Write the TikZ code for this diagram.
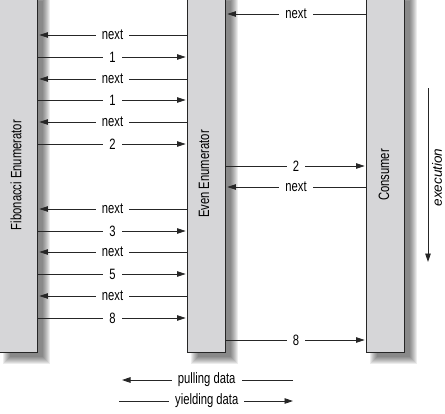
\documentclass[tikz,border=0pt]{standalone}
\usepackage{fontspec}
\setmainfont{Liberation Sans}[FakeStretch=0.75]
\newfontfamily\execfont{Liberation Sans}
\usetikzlibrary{arrows.meta,backgrounds}
\definecolor{barfill}{HTML}{D6D6D8}

\begin{document}
\begin{tikzpicture}[x=1pt, y=-1pt,
        bar/.style={draw=black!85, line width=0.8pt, fill=barfill, minimum width=38pt, minimum height=362pt, inner sep=0pt},
        barname/.style={rotate=90, inner sep=0pt, font=\fontsize{15}{18}\selectfont},
        lbl/.style={fill=white, inner xsep=6pt, inner ysep=1pt, font=\fontsize{15}{18}\selectfont},
        flow/.style={draw=black!85, line width=0.8pt, -{Triangle[length=8.5pt,width=5.5pt]}, shorten >=1.5pt}]
    \useasboundingbox (0,0) rectangle (445,413);
    \clip (0,0) rectangle (445,413);

    % the three enumerators
    \node[bar] (fib) at (18.5,171) {};
    \node[bar] (even) at (206.5,171) {};
    \node[bar] (cons) at (385.5,171) {};
    \node[barname] (fibname) at (16,175) {Fibonacci Enumerator};
    \node[barname] (evenname) at (204,174) {Even Enumerator};
    \node[barname] (consname) at (384,175) {Consumer};

    % soft shadows
    \begin{scope}[on background layer]
        \foreach \b in {fib,even,cons}
            \foreach \i in {0,...,7}
                \fill[black, opacity=0.075] ([shift={(4+\i,4+\i)}]\b.north west) rectangle ([shift={(12-\i,12-\i)}]\b.south east);
    \end{scope}

    % fibonacci <-> even
    \foreach \y in {35,79,122,209,252,296}
        \draw[flow] (even.west |- 0,\y) -- node[lbl] {next} (fib.east |- 0,\y);
    \foreach \y/\v in {57/1,100/1,144/2,231/3,274/5,318/8}
        \draw[flow] (fib.east |- 0,\y) -- node[lbl] {\v} (even.west |- 0,\y);

    % even <-> consumer
    \foreach \y in {14,187}
        \draw[flow] (cons.west |- 0,\y) -- node[lbl] {next} (even.east |- 0,\y);
    \foreach \y/\v in {166/2,340/8}
        \draw[flow] (even.east |- 0,\y) -- node[lbl] {\v} (cons.west |- 0,\y);

    % execution direction
    \coordinate (exectop) at (428,88);
    \coordinate (execbot) at (428,263.5);
    \draw[flow] (exectop) -- (execbot);
    \node[rotate=90, inner sep=0pt, font=\execfont\itshape\fontsize{13.5}{16}\selectfont] (exec) at (437,177.5) {execution};

    % legend
    \coordinate (pullL) at (120.5,380);
    \coordinate (pullR) at (293,380);
    \coordinate (yieldL) at (119,401);
    \coordinate (yieldR) at (294.5,401);
    \draw[flow] (pullR) -- node[lbl] {pulling data} (pullL);
    \draw[flow] (yieldL) -- node[lbl] {yielding data} (yieldR);
\end{tikzpicture}
\end{document}
